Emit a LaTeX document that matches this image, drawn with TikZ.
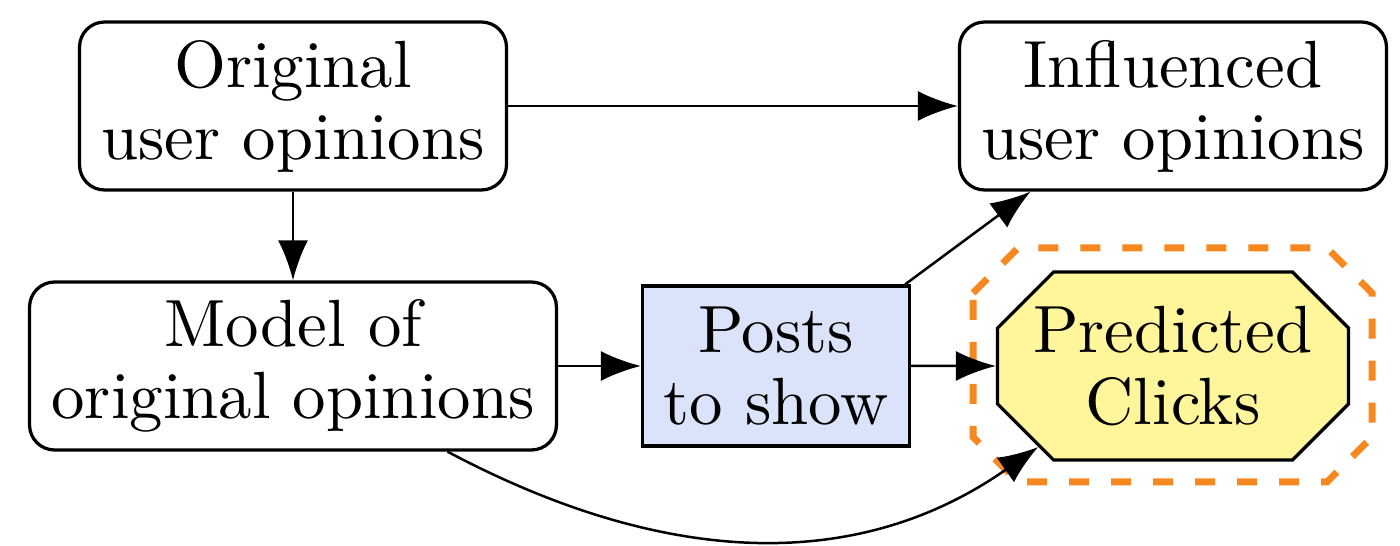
\documentclass[tikz,border=0pt]{standalone}
\usepackage{fontspec}
\setmainfont{lmroman10-regular.otf}
\usetikzlibrary{shapes.misc,arrows.meta}
\definecolor{postblue}{HTML}{DBE3FB}
\definecolor{predyellow}{HTML}{FFF59B}
\definecolor{dashorange}{HTML}{F5891F}
\tikzset{
  txt/.style={align=center,font=\fontsize{38}{41}\selectfont,inner sep=0pt},
  rbox/.style={txt,draw,line width=0.065cm,rounded corners=0.5cm},
  sqbox/.style={txt,draw,line width=0.065cm,fill=postblue},
  octbox/.style={txt,draw,line width=0.065cm,fill=predyellow,chamfered rectangle,chamfered rectangle xsep=0.56cm,chamfered rectangle ysep=0.56cm},
  arr/.style={line width=0.05cm,-{Latex[length=0.8cm,width=0.6cm]}},
  dashbox/.style={draw=dashorange,line width=0.14cm,dash pattern=on 0.4cm off 0.44cm}
}
\begin{document}
\begin{tikzpicture}[x=0.02cm,y=-0.02cm]
\useasboundingbox (0,0) rectangle (1400,546);
\node[rbox,minimum width=8.54cm,minimum height=3.36cm] (orig) at (293,106) {Original\\user opinions};
\node[rbox,minimum width=8.54cm,minimum height=3.36cm] (infl) at (1173,106) {Influenced\\user opinions};
\node[rbox,minimum width=10.54cm,minimum height=3.36cm] (model) at (293,366) {Model of\\original opinions};
\node[sqbox,minimum width=5.34cm,minimum height=3.2cm] (posts) at (776,366) {Posts\\to show};
\node[octbox,minimum width=7.02cm,minimum height=3.76cm] (pred) at (1173,366) {Predicted\\Clicks};
\draw[dashbox] (973,293)--(1018,248)--(1327,248)--(1372,293)--(1372,437)--(1327,482)--(1018,482)--(973,437)--cycle;
\draw[arr] (orig) -- (infl);
\draw[arr] (orig) -- (model);
\draw[arr] (model) -- (posts);
\draw[arr] (posts) -- (pred);
\draw[arr] (posts.north east) ++(-6,0) coordinate (pne) (pne) -- (infl.211);
\draw[arr] (model.-29) to[out=-28,in=-145] (pred.211);
\end{tikzpicture}
\end{document}
